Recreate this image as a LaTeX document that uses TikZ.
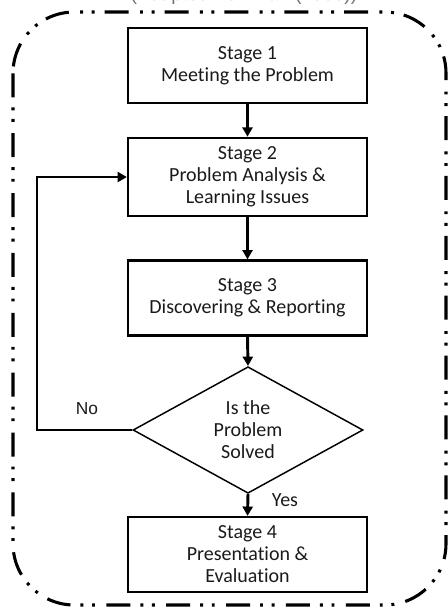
\documentclass[tikz,border=0pt]{standalone}
\usepackage{fontspec}
\setmainfont{Carlito}[Ligatures=NoCommon]
\newfontfamily\capfont{Liberation Sans}
\usetikzlibrary{arrows.meta,shapes.geometric}
\definecolor{ink}{HTML}{1A1A1A}
\tikzset{
  stagebox/.style={draw=black, line width=1.9pt, minimum width=179pt, minimum height=56pt,
    inner sep=0pt, align=center, text=ink, font=\fontsize{15}{16.5}\selectfont},
  decision/.style={diamond, draw=black, line width=1.1pt, minimum width=172.5pt,
    minimum height=75pt, inner sep=0pt, align=center, text=ink,
    font=\fontsize{15}{16.5}\selectfont},
  conn/.style={line width=2.2pt, -{Triangle[length=7pt,width=7.5pt]}},
  frame/.style={line width=2.3pt, rounded corners=46pt,
    dash pattern=on 18pt off 7.5pt on 2.2pt off 6.5pt on 2.2pt off 8.5pt},
  lbl/.style={text=ink, font=\fontsize{15}{16}\selectfont}
}
\begin{document}
\begin{tikzpicture}[x=0.75pt,y=-0.75pt]
\useasboundingbox (0,0) rectangle (448,608);
\begin{scope}
  \clip (0,0) rectangle (448,608);
  % caption sitting above the frame
  \node[anchor=base, text=black!55, font=\capfont\fontsize{14.5}{16}\selectfont]
    (cap) at (244,0) {(Adapted from Tan (2003))};
  % dash-dot-dot outer frame
  \draw[frame] (13,12) rectangle (446,605);
\end{scope}

% process stages
\node[stagebox] (s1) at (247.5,65.5) {Stage 1\\Meeting the Problem};
\node[stagebox, minimum height=58.5pt] (s2) at (247.5,177) {Stage 2\\Problem Analysis \&\\Learning Issues};
\node[stagebox] (s3) at (247.5,298) {Stage 3\\Discovering \& Reporting};
\node[decision] (dec) at (248,430) {Is the\\Problem\\Solved};
\node[stagebox] (s4) at (247.5,554.5) {Stage 4\\Presentation \&\\Evaluation};

% flow
\draw[conn] (s1.south) -- (s2.north);
\draw[conn] (s2.south) -- (s3.north);
\draw[conn] (s3.south) -- (dec.north);
\draw[conn] (dec.south) -- (s4.north);
\coordinate (back) at (37,430);
\draw[conn] (dec.west) -- (back) |- (s2.west);

% branch labels
\node[lbl] (yes) at (285,500) {Yes};
\node[lbl, font=\capfont\fontsize{13}{15}\selectfont] (no) at (87,409) {No};
\end{tikzpicture}
\end{document}
